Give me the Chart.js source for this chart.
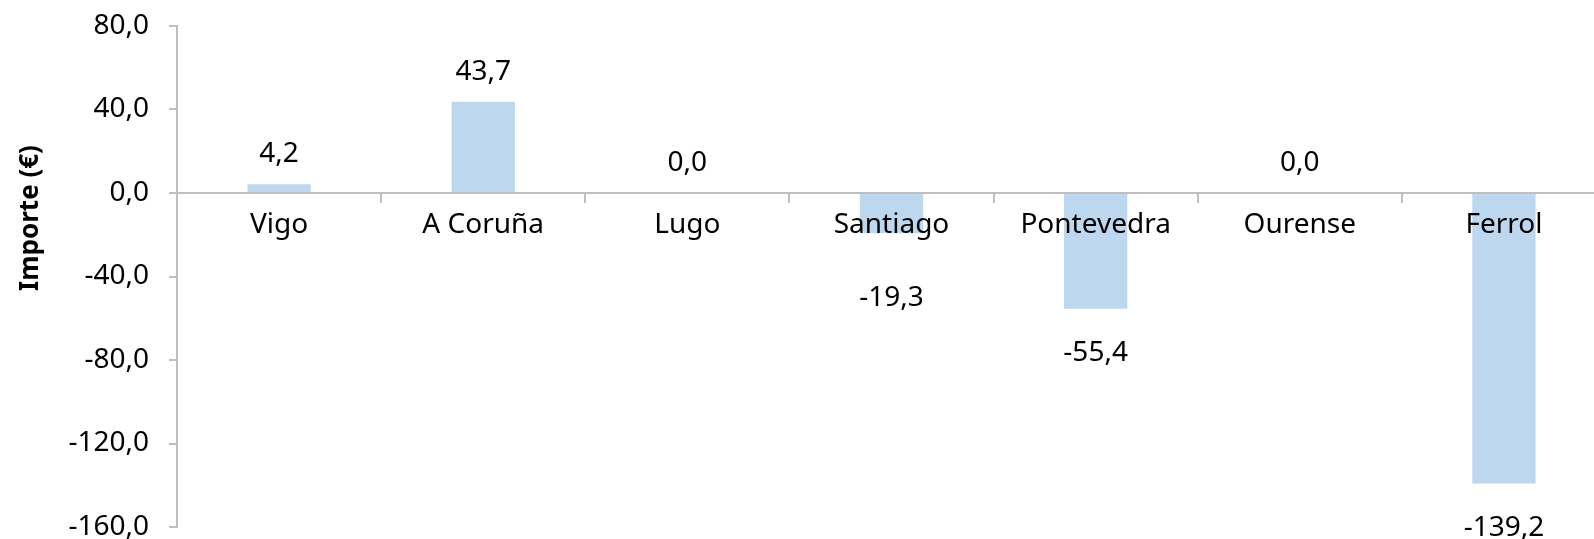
<!DOCTYPE html>
<html>
<head>
<meta charset="utf-8">
<script src="https://cdn.jsdelivr.net/npm/chart.js@4.4.1/dist/chart.umd.min.js"></script>
<style>
    html, body { margin: 0; padding: 0; background: #fff; overflow: hidden; }
    #wrap { position: relative; width: 1620px; height: 539px; }
</style>
</head>
<body>
<div id="wrap"><canvas id="chart"></canvas></div>
<script>
// Data
const categories = ['Vigo', 'A Coruña', 'Lugo', 'Santiago', 'Pontevedra', 'Ourense', 'Ferrol'];
const importes = [4.2, 43.7, 0.0, -19.3, -55.4, 0.0, -139.2];
const yTicks = [80, 40, 0, -40, -80, -120, -160];
const yTitle = 'Importe (€)';

const FONT = '"Noto Sans", "Open Sans", sans-serif';
const AXIS_GRAY = '#bfbfbf';
const fmt = v => v.toFixed(1).replace('.', ',');

// Value labels: above positive bars, below negative ones
const valueLabels = {
    id: 'valueLabels',
    afterDraw(chart) {
        const ctx = chart.ctx;
        const zeroY = chart.scales.y.getPixelForValue(0);
        const meta = chart.getDatasetMeta(0);
        ctx.save();
        ctx.font = '28px ' + FONT;
        ctx.fillStyle = '#000';
        ctx.textAlign = 'center';
        ctx.textBaseline = 'middle';
        meta.data.forEach((bar, i) => {
            const v = importes[i];
            let y;
            if (v >= 0) {
                y = bar.y - 30;
            } else {
                y = Math.max(bar.y + 44, zeroY + 105);
            }
            ctx.fillText(fmt(v), bar.x, y);
        });
        ctx.restore();
    }
};

// Y axis title, drawn a bit higher than the chart's middle like the original
const axisTitle = {
    id: 'axisTitle',
    afterDraw(chart) {
        const ctx = chart.ctx;
        ctx.save();
        ctx.translate(31, 218);
        ctx.rotate(-Math.PI / 2);
        ctx.font = 'bold 26px ' + FONT;
        ctx.fillStyle = '#000';
        ctx.textAlign = 'center';
        ctx.textBaseline = 'middle';
        ctx.fillText(yTitle, 0, 0);
        ctx.restore();
    }
};

const ctx = document.getElementById('chart').getContext('2d');
new Chart(ctx, {
    type: 'bar',
    data: {
        labels: categories,
        datasets: [{
            data: importes,
            backgroundColor: '#bdd7ee',
            borderWidth: 0,
            categoryPercentage: 1,
            barPercentage: 0.31
        }]
    },
    options: {
        responsive: true,
        maintainAspectRatio: false,
        animation: false,
        layout: { padding: { top: 26, right: 14, bottom: 12, left: 0 } },
        plugins: {
            legend: { display: false },
            tooltip: { enabled: false }
        },
        scales: {
            x: {
                position: { y: 0 },
                offset: true,
                grid: {
                    offset: true,
                    drawOnChartArea: false,
                    tickLength: 9,
                    color: AXIS_GRAY,
                    lineWidth: 2
                },
                border: { color: AXIS_GRAY, width: 2, z: 1 },
                ticks: {
                    z: 1,
                    color: '#000',
                    font: { family: FONT, size: 28 },
                    padding: 6,
                    maxRotation: 0,
                    autoSkip: false
                }
            },
            y: {
                min: -160,
                max: 80,
                afterBuildTicks: s => { s.ticks = yTicks.map(v => ({ value: v })); },
                afterFit: s => {
                    s.width = 177;
                    s.paddingTop = 0;
                    s.paddingBottom = 0;
                },
                grid: {
                    drawOnChartArea: false,
                    tickLength: 8,
                    color: AXIS_GRAY,
                    lineWidth: 2
                },
                border: { color: AXIS_GRAY, width: 2 },
                ticks: {
                    color: '#000',
                    font: { family: FONT, size: 28, lineHeight: 0.9 },
                    padding: 20,
                    callback: v => fmt(v)
                }
            }
        }
    },
    plugins: [valueLabels, axisTitle]
});
</script>
</body>
</html>
